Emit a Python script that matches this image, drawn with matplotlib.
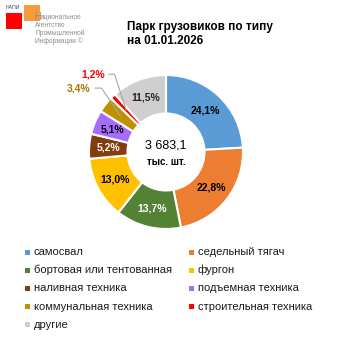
import matplotlib
matplotlib.use("Agg")
import matplotlib.pyplot as plt
from matplotlib.patches import Rectangle
import numpy as np

plt.rcParams['font.family'] = ['Liberation Sans', 'DejaVu Sans']

categories = ["самосвал", "седельный тягач", "бортовая или тентованная", "фургон",
              "наливная техника", "подъемная техника", "коммунальная техника",
              "строительная техника", "другие"]
shares = [24.1, 22.8, 13.7, 13.0, 5.2, 5.1, 3.4, 1.2, 11.5]
pct_labels = ["24,1%", "22,8%", "13,7%", "13,0%", "5,2%", "5,1%", "3,4%", "1,2%", "11,5%"]
colors = ["#5B9BD5", "#ED7D31", "#548235", "#FFC000", "#843C0C",
          "#A66BFF", "#BF9000", "#FF0000", "#D0CECE"]
label_colors = ["black", "black", "white", "black", "white", "black", "#A07800", "#FF0000", "#262626"]
total_text = "3 683,1"
unit_text = "тыс. шт."
title = "Парк грузовиков по типу\nна 01.01.2026"

W = H = 338
fig = plt.figure(figsize=(3.38, 3.38), dpi=100)

def fx(px):
    return px / W

def fy(py):
    return 1 - py / H

# pie axes
cx, cy, R = 166, 152, 77
ax = fig.add_axes([fx(cx - R), fy(cy + R), 2 * R / W, 2 * R / H])
wedges, _ = ax.pie(shares, colors=colors, startangle=90, counterclock=False,
                   radius=1.0, wedgeprops=dict(width=0.5, edgecolor="white", linewidth=1.5))
ax.set_xlim(-1, 1)
ax.set_ylim(-1, 1)
ax.set_aspect("equal")
ax.axis("off")

outside = {6: ((-1.13, 0.83), -56), 7: ((-0.95, 1.01), -72)}
for i, w in enumerate(wedges):
    mid = np.deg2rad((w.theta1 + w.theta2) / 2)
    r = 0.75
    x, y = r * np.cos(mid), r * np.sin(mid)
    if i in outside:
        (tx, ty), angB = outside[i]
        ax.annotate(pct_labels[i], xy=(x, y), xytext=(tx, ty), ha="center", va="center",
                    fontsize=7.5, fontweight="bold", color=label_colors[i],
                    annotation_clip=False,
                    arrowprops=dict(arrowstyle="-", color="#A6A6A6", lw=0.8,
                                    connectionstyle=f"angle,angleA=0,angleB={angB},rad=0",
                                    shrinkA=1, shrinkB=0))
    else:
        ax.text(x, y, pct_labels[i], ha="center", va="center", fontsize=7.5,
                fontweight="bold", color=label_colors[i])

ax.text(0, 0.08, total_text, ha="center", va="center", fontsize=9, color="black")
ax.text(0, -0.13, unit_text, ha="center", va="center", fontsize=7, fontweight="bold", color="black")

# title
fig.text(fx(127), fy(34), title, ha="left", va="center", fontsize=8.5, fontweight="bold",
         linespacing=1.3)

# legend (row-major, 2 columns)
col_x = [27, 191]
row_y0, row_dy = 252, 18.2
for i, (cat, col) in enumerate(zip(categories, colors)):
    r, c = divmod(i, 2)
    mx, my = col_x[c], row_y0 + r * row_dy
    s = 5
    fig.patches.append(Rectangle((fx(mx - s / 2), fy(my + s / 2)), s / W, s / H,
                                 transform=fig.transFigure, facecolor=col, edgecolor="none"))
    fig.text(fx(mx + 7), fy(my), cat, ha="left", va="center", fontsize=8, color="#1a1a1a")

# logo
fig.patches.append(Rectangle((fx(24), fy(21)), 16 / W, 16 / H, transform=fig.transFigure,
                             facecolor="#F79A3A", edgecolor="none"))
fig.patches.append(Rectangle((fx(6), fy(29)), 16 / W, 16 / H, transform=fig.transFigure,
                             facecolor="#FF0000", edgecolor="none"))
fig.text(fx(6), fy(7.5), "НАПИ", ha="left", va="center", fontsize=3.8, color="#3b4a6b")
fig.text(fx(34), fy(17), "Н", ha="left", va="center", fontsize=7, color="#8c8c8c")
fig.text(fx(40.5), fy(17.5), "ациональное", ha="left", va="center", fontsize=4.8, color="#8c8c8c")
for j, line in enumerate(["Агентство", "Промышленной", "Информации ©"]):
    fig.text(fx(35), fy(25.5 + 8 * j), line, ha="left", va="center", fontsize=4.8, color="#8c8c8c")

fig.savefig("out.png", dpi=100)
